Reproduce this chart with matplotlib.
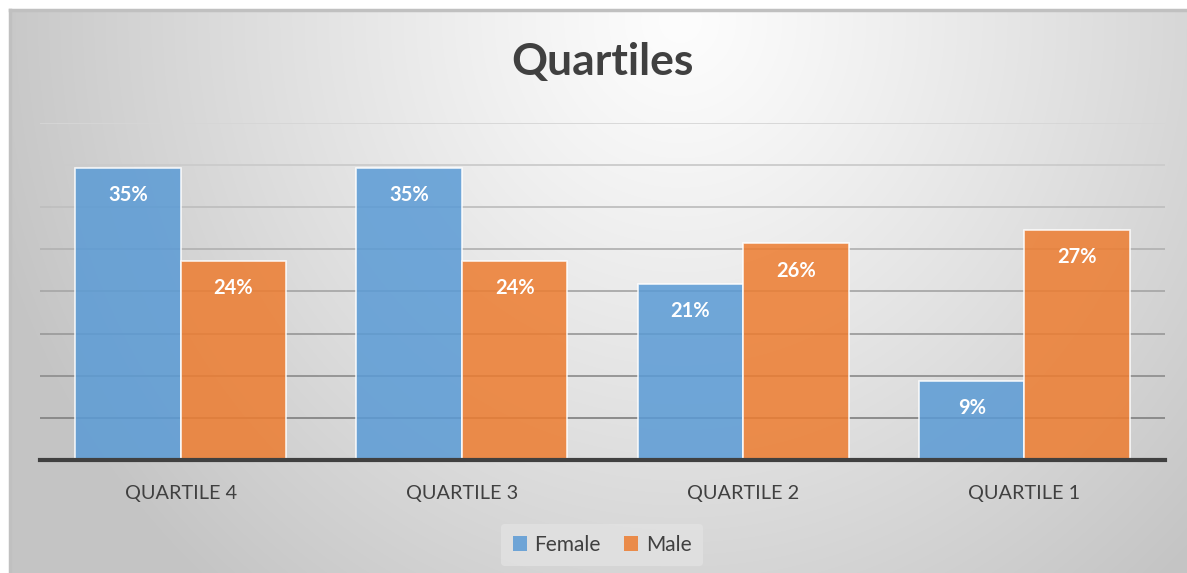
import numpy as np
import matplotlib
matplotlib.use("Agg")
import matplotlib.pyplot as plt
from matplotlib.patches import Patch, Rectangle

categories = ["QUARTILE 4", "QUARTILE 3", "QUARTILE 2", "QUARTILE 1"]
female = [34.7, 34.7, 20.9, 9.4]
male = [23.6, 23.6, 25.7, 27.3]
series_names = ["Female", "Male"]
title = "Quartiles"

W, H = 1187, 573
fig = plt.figure(figsize=(W / 100, H / 100), dpi=100)
fig.patch.set_facecolor("white")

# background gradient panel
bg = fig.add_axes([10 / W, 0, 1 - 10 / W, 1 - 10 / H], zorder=0)
yy, xx = np.mgrid[10:573, 10:1187]
t = np.sqrt(((xx - 680) / 720.0) ** 2 + ((yy - 20) / 760.0) ** 2)
t = np.clip(t, 0, 1)
val = (253 - (253 - 196) * t ** 1.15) / 255.0
img = np.dstack([val, val, val])
bg.imshow(img, aspect="auto", extent=[0, 1, 0, 1], origin="upper")
bg.set_xlim(0, 1)
bg.set_ylim(0, 1)
bg.axis("off")
bg.plot([0, 1], [1, 1], color="#c0c0c0", lw=2.5, transform=bg.transAxes, clip_on=False)
bg.plot([0, 0], [0, 1], color="#c0c0c0", lw=2.5, transform=bg.transAxes, clip_on=False)

# main axes
left, right = 40 / W, 1165 / W
bottom, top = (H - 460) / H, (H - 123) / H
ax = fig.add_axes([left, bottom, right - left, top - bottom], zorder=2)
ax.patch.set_alpha(0)
ax.set_xlim(-0.5, len(categories) - 0.5)
ax.set_ylim(0, 40)

grid_vals = np.arange(5, 41, 5)
for g in grid_vals:
    f = (g - 5) / 35.0
    c = 0.52 + 0.32 * f
    ax.axhline(g, color=(c, c, c), lw=1.3, zorder=1)

x = np.arange(len(categories))
w = 0.375
b1 = ax.bar(x - w / 2, female, w, color="#5B9BD5", alpha=0.86, edgecolor=(1, 1, 1, 0.6), lw=1.2, zorder=3)
b2 = ax.bar(x + w / 2, male, w, color="#ED7D31", alpha=0.86, edgecolor=(1, 1, 1, 0.6), lw=1.2, zorder=3)

for bars, vals in ((b1, female), (b2, male)):
    for r, v in zip(bars, vals):
        ax.annotate(f"{v:.0f}%", (r.get_x() + r.get_width() / 2, v), xytext=(0, -19.5),
                    textcoords="offset points", ha="center", va="center",
                    color="white", fontsize=14.5, fontweight="bold", family="Lato", zorder=5)

ax.axhline(0, color="#404040", lw=3, zorder=4, clip_on=False)
for s in ax.spines.values():
    s.set_visible(False)
ax.set_yticks([])
ax.set_xticks(x, categories)
ax.tick_params(axis="x", length=0, pad=18, labelsize=14.3, labelcolor="#404040")
for lab in ax.get_xticklabels():
    lab.set_family("Lato")

fig.text(602 / W, 1 - 62 / H, title, ha="center", va="center", fontsize=32,
         fontweight="bold", color="#404040", family="Lato", zorder=5)

handles = [Patch(facecolor="#5B9BD5", alpha=0.86, edgecolor="none"),
           Patch(facecolor="#ED7D31", alpha=0.86, edgecolor="none")]
leg = fig.legend(handles, series_names, loc="center", bbox_to_anchor=(602 / W, 1 - 545 / H),
                 ncol=2, frameon=True, handlelength=0.7, handleheight=0.7,
                 handletextpad=0.35, columnspacing=1.1, borderpad=0.55,
                 prop={"family": "Lato", "size": 15})
leg.get_frame().set_facecolor("#e2e2e2")
leg.get_frame().set_edgecolor("none")
leg.get_frame().set_alpha(0.8)
for tx in leg.get_texts():
    tx.set_color("#404040")

fig.savefig("out.png", dpi=100)
